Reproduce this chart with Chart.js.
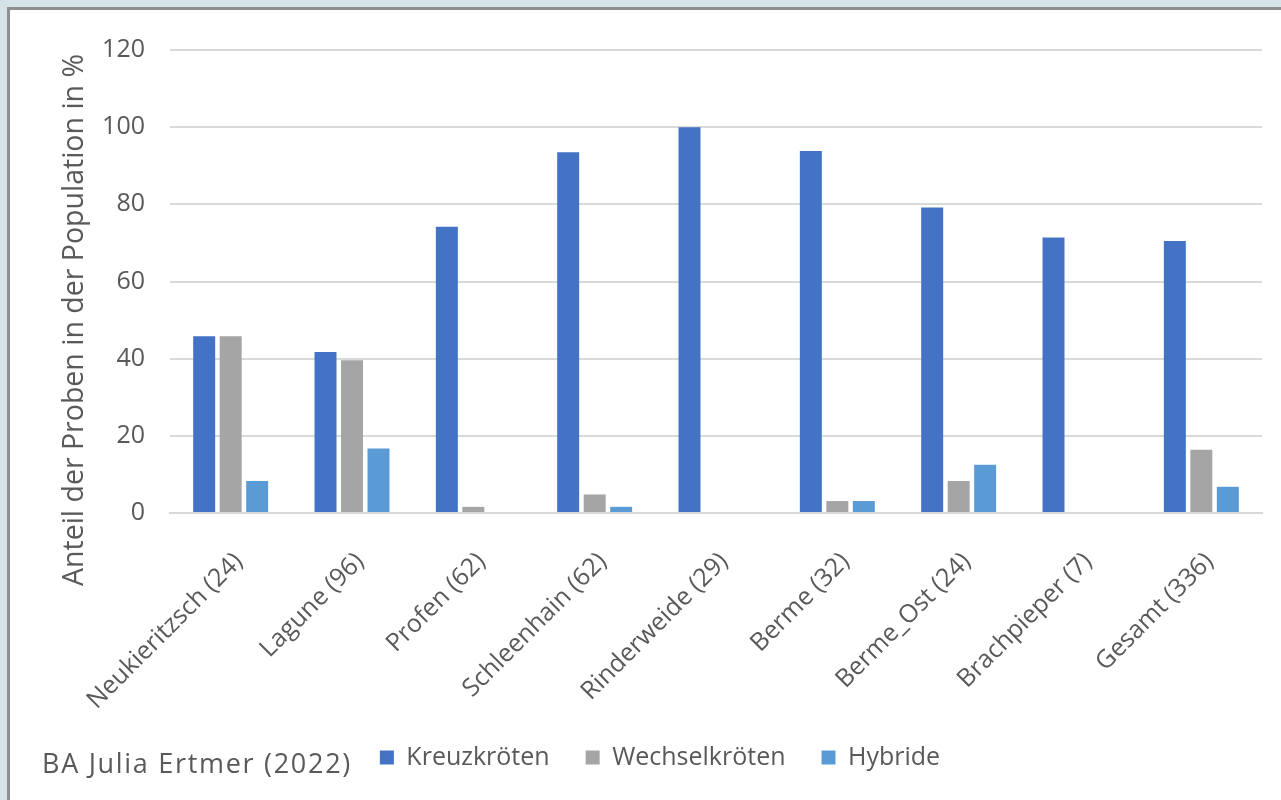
<!DOCTYPE html>
<html>
<head>
<meta charset="utf-8">
<script src="https://cdn.jsdelivr.net/npm/chart.js@4"></script>
<style>
  html, body { margin: 0; padding: 0; }
  body { width: 1281px; height: 800px; background: #d5e3e8; overflow: hidden; position: relative; font-family: "Open Sans", sans-serif; }
  #card { position: absolute; left: 7px; top: 7px; width: 1290px; height: 800px; background: #fff; border-left: 3px solid #8f8f8f; border-top: 3px solid #8f8f8f; }
  #wrap { position: absolute; left: 10px; top: 10px; width: 1271px; height: 790px; }
  #ytitle { position: absolute; left: 72px; top: 320px; transform: translate(-50%, -50%) rotate(-90deg); font-size: 28.5px; color: #595959; white-space: nowrap; }
  #source { position: absolute; left: 42px; top: 744px; font-size: 27px; letter-spacing: 1.7px; color: #595959; white-space: nowrap; }
</style>
</head>
<body>
<div id="card"></div>
<div id="wrap"><canvas id="chart"></canvas></div>
<div id="ytitle">Anteil der Proben in der Population in %</div>
<div id="source">BA Julia Ertmer (2022)</div>
<script>
const categories = [
    "Neukieritzsch (24)", "Lagune (96)", "Profen (62)", "Schleenhain (62)",
    "Rinderweide (29)", "Berme (32)", "Berme_Ost (24)", "Brachpieper (7)", "Gesamt (336)"
];

const kreuzkroeten = [45.8, 41.7, 74.2, 93.5, 100, 93.8, 79.2, 71.4, 70.5];
const wechselkroeten = [45.8, 39.6, 1.6, 4.8, 0, 3.1, 8.3, 0, 16.4];
const hybride = [8.3, 16.7, 0, 1.6, 0, 3.1, 12.5, 0, 6.8];

const seriesNames = ["Kreuzkröten", "Wechselkröten", "Hybride"];
const seriesColors = ["#4472c4", "#a5a5a5", "#5b9bd5"];

const yTicks = [0, 20, 40, 60, 80, 100, 120];

const textColor = "#595959";
const gridColor = "#d9d9d9";

const ctx = document.getElementById("chart").getContext("2d");

new Chart(ctx, {
    type: "bar",
    data: {
        labels: categories,
        datasets: [kreuzkroeten, wechselkroeten, hybride].map((values, i) => ({
            label: seriesNames[i],
            data: values,
            backgroundColor: seriesColors[i],
            borderWidth: 0,
            categoryPercentage: 0.655,
            barPercentage: 0.83
        }))
    },
    options: {
        responsive: true,
        maintainAspectRatio: false,
        animation: false,
        layout: {
            autoPadding: false,
            padding: { left: 48, right: 19, top: 32, bottom: 20 }
        },
        plugins: {
            tooltip: { enabled: false },
            legend: {
                position: "bottom",
                labels: {
                    color: textColor,
                    font: { family: "Open Sans", size: 25 },
                    boxWidth: 14,
                    boxHeight: 14,
                    padding: 36
                }
            }
        },
        scales: {
            x: {
                grid: { display: false },
                border: { color: gridColor, width: 2 },
                ticks: {
                    color: textColor,
                    font: { family: "Open Sans", size: 25 },
                    maxRotation: 45,
                    minRotation: 45,
                    padding: 26,
                    labelOffset: 8
                },
                afterFit: scale => { scale.height = 196; }
            },
            y: {
                min: 0,
                max: 120,
                afterBuildTicks: scale => {
                    scale.ticks = yTicks.map(v => ({ value: v }));
                },
                grid: { color: gridColor, lineWidth: 2, drawTicks: false },
                border: { display: false },
                ticks: {
                    color: textColor,
                    font: { family: "Open Sans", size: 25 },
                    padding: 25
                },
                afterFit: scale => { scale.width = 112; }
            }
        }
    }
});
</script>
</body>
</html>
